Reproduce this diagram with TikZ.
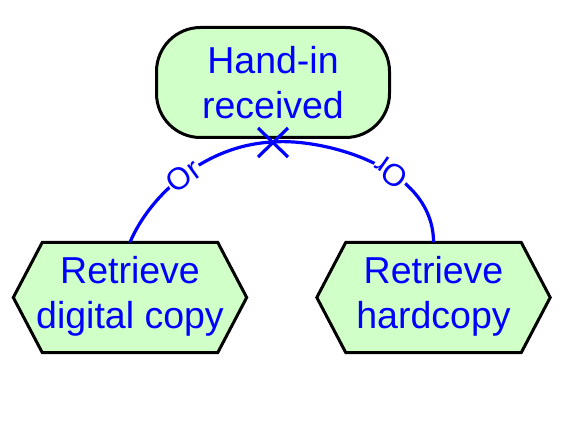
\documentclass[tikz,border=0pt]{standalone}
\usepackage{fontspec}
\setmainfont{Liberation Sans}
\usetikzlibrary{backgrounds}
\definecolor{nodefill}{RGB}{208,255,200}
\begin{document}
\begin{tikzpicture}[x=1pt,y=1pt,
  txt/.style={text=blue, font=\fontsize{37.5}{44.5}\selectfont, align=center},
  evt/.style={txt, draw, line width=3pt, fill=nodefill, rounded corners=44pt, minimum width=233pt, minimum height=110pt, inner sep=0pt},
  fnbox/.style={txt, minimum width=233pt, minimum height=110pt, inner sep=0pt},
  hexline/.style={draw, line width=3pt, fill=nodefill, line join=miter},
  conn/.style={blue, line width=3.2pt},
  orlbl/.style={text=blue, font=\fontsize{31}{31}\selectfont, fill=white, inner sep=1pt}
]
\useasboundingbox (0,0) rectangle (567,-427);
\node[evt] (t) at (273,-82.5) {Hand-in\\received};
\node[fnbox] (l) at (130,-296.5) {Retrieve\\digital copy};
\node[fnbox] (r) at (433.5,-296.5) {Retrieve\\hardcopy};
\begin{scope}[on background layer]
\foreach \n in {l,r} \path[hexline] ([xshift=29pt,yshift=-1pt]\n.north west) -- ([xshift=-29pt,yshift=-1pt]\n.north east) -- ([yshift=-1pt]\n.east) -- ([xshift=-29pt,yshift=-1pt]\n.south east) -- ([xshift=29pt,yshift=-1pt]\n.south west) -- ([yshift=-1pt]\n.west) -- cycle;
\end{scope}
\coordinate (xm) at ([yshift=-3pt]t.south);
\coordinate (lt) at ([yshift=-1pt]l.north);
\coordinate (rt) at ([yshift=-1pt]r.north);
\draw[conn] (lt) .. controls (150,-195) and (205,-145) .. node[orlbl, pos=0.5, rotate=36] (ol) {Or} (xm);
\draw[conn] (rt) .. controls (433.5,-165) and (320,-138) .. node[orlbl, pos=0.4, rotate=145] (or) {Or} (xm);
\draw[conn] ([shift={(-15,14)}]xm) -- ([shift={(15,-15)}]xm);
\draw[conn] ([shift={(-15,-15)}]xm) -- ([shift={(15,14)}]xm);
\end{tikzpicture}
\end{document}
